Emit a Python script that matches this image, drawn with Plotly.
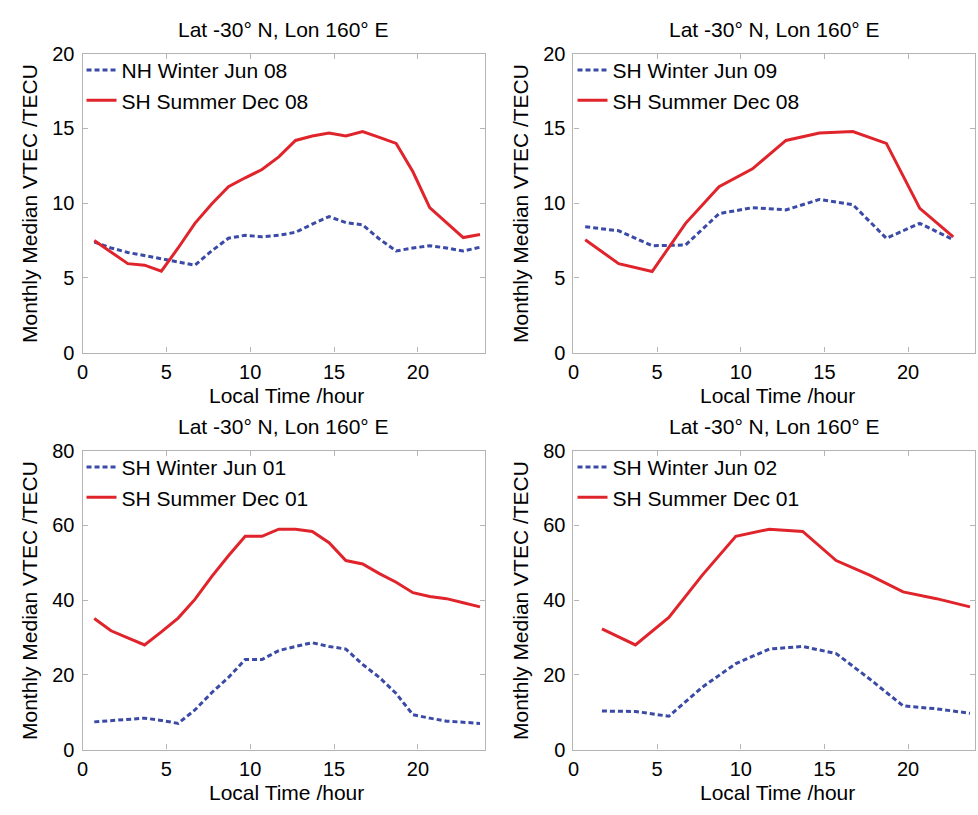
import plotly.graph_objects as go

# ---------------- data ----------------
hours_p1 = [0.7, 1.7, 2.7, 3.7, 4.7, 5.7, 6.7, 7.7, 8.7, 9.7, 10.7, 11.7,
            12.7, 13.7, 14.7, 15.7, 16.7, 17.7, 18.7, 19.7, 20.7, 21.7, 22.7, 23.7]
p1_winter = [7.4, 7.0, 6.7, 6.5, 6.3, 6.1, 5.85, 6.8, 7.65, 7.85, 7.75, 7.85,
             8.05, 8.6, 9.1, 8.7, 8.55, 7.6, 6.8, 7.0, 7.15, 7.0, 6.8, 7.05]
p1_summer = [7.5, 6.7, 5.95, 5.85, 5.45, 7.0, 8.65, 9.95, 11.1, 11.7, 12.25, 13.1,
             14.2, 14.5, 14.7, 14.5, 14.8, 14.4, 14.0, 12.1, 9.7, 8.7, 7.7, 7.9]

hours_p2 = [0.7, 2.7, 4.7, 6.7, 8.7, 10.7, 12.7, 14.7, 16.7, 18.7, 20.7, 22.7]
p2_winter = [8.42, 8.15, 7.15, 7.2, 9.3, 9.7, 9.55, 10.25, 9.9, 7.65, 8.65, 7.55]
p2_summer = [7.55, 5.95, 5.42, 8.65, 11.1, 12.3, 14.2, 14.7, 14.8, 14.0, 9.65, 7.75]

hours_p3 = hours_p1
p3_winter = [7.4, 7.8, 8.0, 8.4, 7.8, 7.0, 10.6, 15.2, 19.3, 24.1, 24.1, 26.5,
             27.6, 28.6, 27.6, 26.9, 22.8, 19.3, 15.0, 9.3, 8.4, 7.6, 7.3, 7.0]
p3_summer = [35.1, 31.8, 29.9, 28.0, 31.5, 35.2, 40.2, 46.3, 51.9, 57.1, 57.1, 59.0,
             59.0, 58.4, 55.4, 50.6, 49.7, 47.1, 44.8, 42.0, 41.0, 40.4, 39.3, 38.2]

hours_p4 = [1.7, 3.7, 5.7, 7.7, 9.7, 11.7, 13.7, 15.7, 17.7, 19.7, 21.7, 23.7]
p4_winter = [10.3, 10.2, 8.9, 16.7, 23.0, 26.9, 27.6, 25.7, 18.9, 11.7, 10.9, 9.7]
p4_summer = [32.3, 28.0, 35.4, 46.7, 57.1, 59.0, 58.4, 50.6, 46.7, 42.2, 40.4, 38.2]

panel_title = "Lat -30\u00b0 N, Lon 160\u00b0 E"
x_title = "Local Time /hour"
y_title = "Monthly Median VTEC /TECU"
x_ticks = [0, 5, 10, 15, 20]

panels = [
    dict(x=hours_p1, w=p1_winter, s=p1_summer, wname="NH Winter Jun 08", sname="SH Summer Dec 08", ymax=20, dy=5),
    dict(x=hours_p2, w=p2_winter, s=p2_summer, wname="SH Winter Jun 09", sname="SH Summer Dec 08", ymax=20, dy=5),
    dict(x=hours_p3, w=p3_winter, s=p3_summer, wname="SH Winter Jun 01", sname="SH Summer Dec 01", ymax=80, dy=20),
    dict(x=hours_p4, w=p4_winter, s=p4_summer, wname="SH Winter Jun 02", sname="SH Summer Dec 01", ymax=80, dy=20),
]

# ---------------- layout geometry ----------------
W, H = 978, 815
xdoms = [(77 / W, 482 / W), (571 / W, 975 / W)]
ydoms = [(1 - 351 / H, 1 - 44 / H), (1 - 759 / H, 1 - 452 / H)]

BLUE = "#3a4aa6"
RED = "#e0242c"
FONT = "Liberation Sans, Arial, sans-serif"

fig = go.Figure()
annotations = []
layout = dict(
    width=W, height=H,
    margin=dict(l=0, r=0, t=0, b=0),
    paper_bgcolor="white", plot_bgcolor="white",
    showlegend=True,
    font=dict(family=FONT, color="black"),
)

for i, p in enumerate(panels):
    row, col = divmod(i, 2)
    n = i + 1
    xa = "x" if n == 1 else f"x{n}"
    ya = "y" if n == 1 else f"y{n}"
    legend_name = "legend" if n == 1 else f"legend{n}"
    fig.add_trace(go.Scatter(
        x=p["x"], y=p["w"], mode="lines", name=p["wname"],
        line=dict(color=BLUE, width=3, dash="5px,3px"),
        xaxis=xa, yaxis=ya, legend=legend_name))
    fig.add_trace(go.Scatter(
        x=p["x"], y=p["s"], mode="lines", name=p["sname"],
        line=dict(color=RED, width=3),
        xaxis=xa, yaxis=ya, legend=legend_name))

    xd = xdoms[col]
    yd = ydoms[row]
    axis_common = dict(
        showgrid=False, zeroline=False, showline=True, linecolor="#b4b4b4",
        linewidth=1.2, mirror="ticks", ticks="inside", ticklen=5,
        tickcolor="#b4b4b4", tickfont=dict(size=20, family=FONT, color="black"),
    )
    layout["xaxis" if n == 1 else f"xaxis{n}"] = dict(
        axis_common, domain=list(xd), range=[0, 24], tickmode="array",
        tickvals=x_ticks, anchor=ya, ticklabelstandoff=1)
    layout["yaxis" if n == 1 else f"yaxis{n}"] = dict(
        axis_common, domain=list(yd), range=[0, p["ymax"]], dtick=p["dy"],
        tick0=0, anchor=xa, ticklabelstandoff=3)
    layout[legend_name] = dict(
        x=xd[0] - 1 / W, y=yd[1] + 4 / H, xanchor="left", yanchor="top",
        bgcolor="rgba(0,0,0,0)", borderwidth=0, itemwidth=30,
        font=dict(size=21, family=FONT, color="black"),
        tracegroupgap=0, itemclick=False)

    cx = (xd[0] + xd[1]) / 2
    annotations.append(dict(
        text=panel_title, x=cx, y=yd[1] + 25 / H, xref="paper", yref="paper",
        showarrow=False, xanchor="center", yanchor="middle",
        font=dict(size=21, family=FONT, color="black")))
    annotations.append(dict(
        text=x_title, x=cx + 3 / W, y=yd[0] - 44 / H, xref="paper", yref="paper",
        showarrow=False, xanchor="center", yanchor="middle",
        font=dict(size=21, family=FONT, color="black")))
    annotations.append(dict(
        text=y_title, x=xd[0] - 54 / W, y=(yd[0] + yd[1]) / 2, xref="paper",
        yref="paper", showarrow=False, xanchor="center", yanchor="middle",
        textangle=-90, font=dict(size=21, family=FONT, color="black")))

layout["annotations"] = annotations
fig.update_layout(**layout)
fig.write_html("out.html")
